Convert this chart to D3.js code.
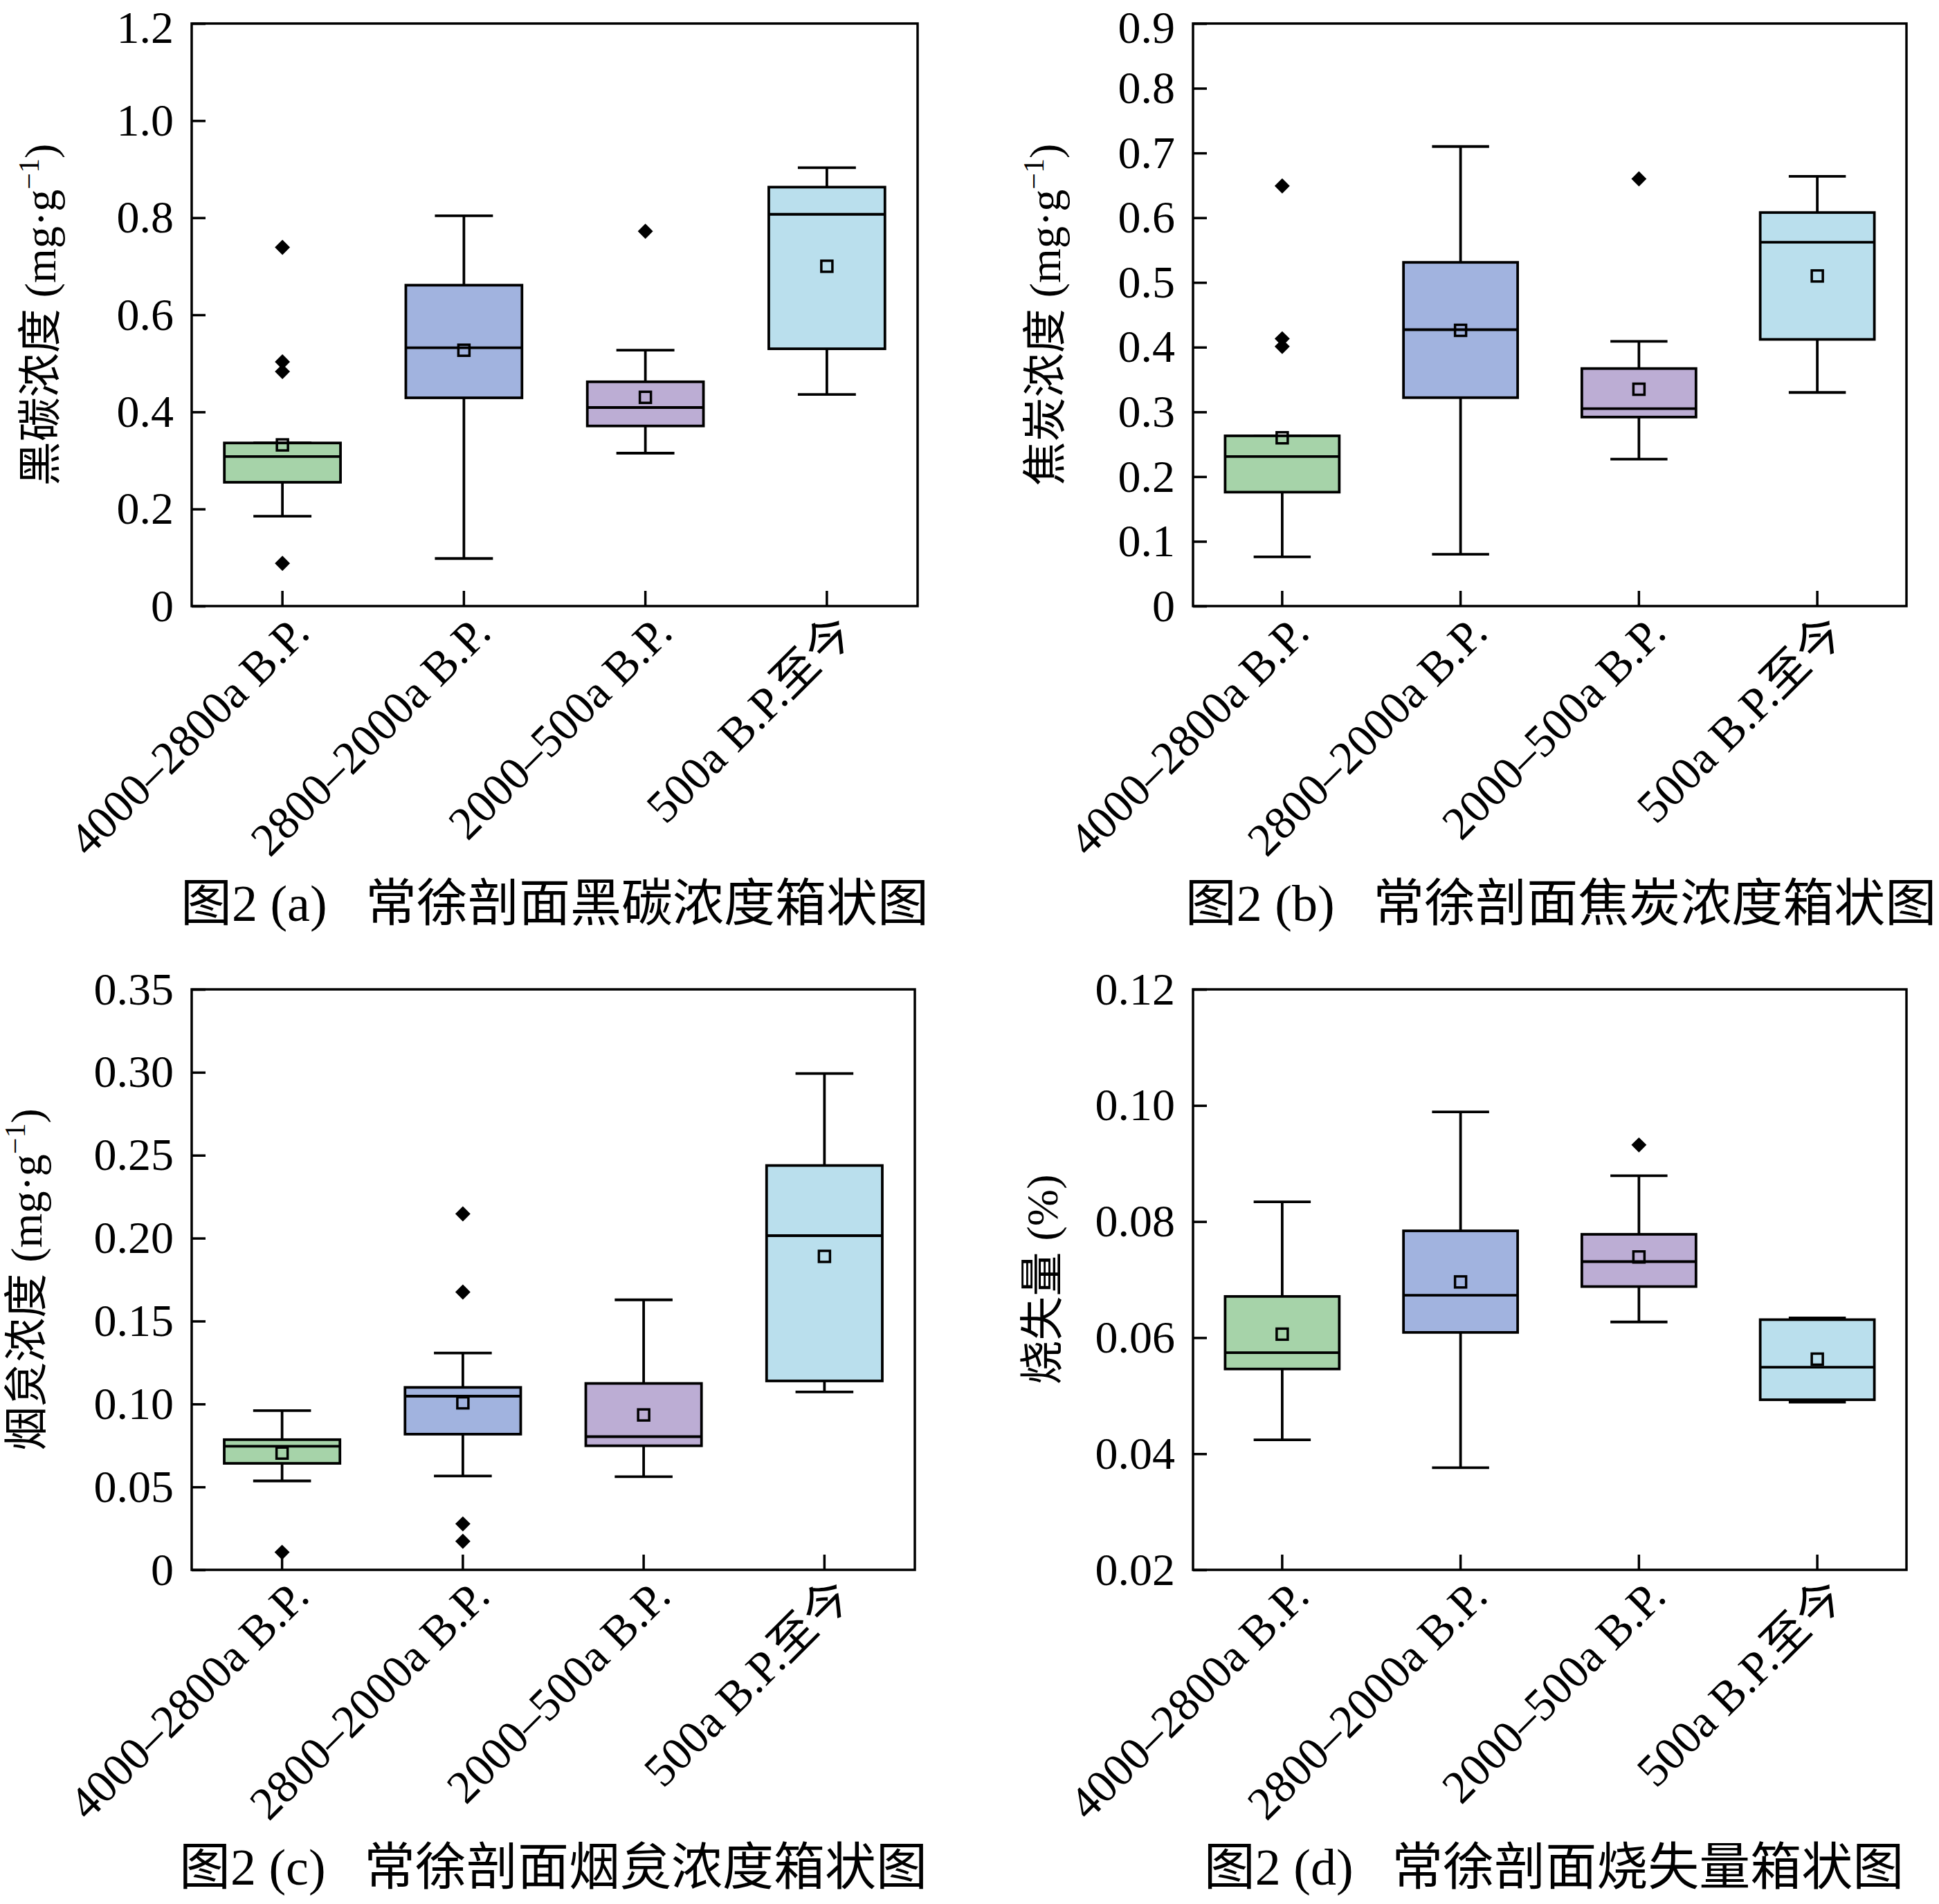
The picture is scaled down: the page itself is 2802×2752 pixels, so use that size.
<!DOCTYPE html>
<html><head><meta charset="utf-8">
<script src="https://cdn.jsdelivr.net/npm/d3@7"></script>
<style>html,body{margin:0;padding:0;background:#fff}</style>
</head><body>
<script>
const categories = ["4000–2800a B.P.", "2800–2000a B.P.", "2000–500a B.P.", "500a B.P.至今"];
const colors = ["#a6d3a9", "#a1b3df", "#bcadd4", "#badfed"];

// Panel (a) 黑碳
const aLow = [0.185, 0.098, 0.315, 0.436];
const aQ1 = [0.255, 0.429, 0.371, 0.530];
const aMed = [0.308, 0.532, 0.409, 0.807];
const aQ3 = [0.336, 0.661, 0.462, 0.863];
const aHigh = [0.336, 0.804, 0.527, 0.903];
const aMean = [0.332, 0.527, 0.430, 0.700];
const aOut = [[0.739, 0.503, 0.483, 0.088], [], [0.772], []];
const aTicks = [0, 0.2, 0.4, 0.6, 0.8, 1.0, 1.2];

// Panel (b) 焦炭
const bLow = [0.076, 0.080, 0.227, 0.330];
const bQ1 = [0.176, 0.322, 0.292, 0.412];
const bMed = [0.231, 0.427, 0.305, 0.562];
const bQ3 = [0.263, 0.531, 0.367, 0.608];
const bHigh = [0.263, 0.710, 0.409, 0.664];
const bMean = [0.260, 0.426, 0.335, 0.510];
const bOut = [[0.649, 0.413, 0.401], [], [0.660], []];
const bTicks = [0, 0.1, 0.2, 0.3, 0.4, 0.5, 0.6, 0.7, 0.8, 0.9];

// Panel (c) 烟炱
const cLow = [0.0536, 0.0566, 0.0562, 0.1073];
const cQ1 = [0.0642, 0.0818, 0.0748, 0.1139];
const cMed = [0.0745, 0.1047, 0.0803, 0.2015];
const cQ3 = [0.0785, 0.1100, 0.1124, 0.2438];
const cHigh = [0.0960, 0.1307, 0.1628, 0.2993];
const cMean = [0.0704, 0.1007, 0.0934, 0.1890];
const cOut = [[0.0106], [0.2146, 0.1675, 0.0277, 0.0172], [], []];
const cTicks = [0, 0.05, 0.10, 0.15, 0.20, 0.25, 0.30, 0.35];

// Panel (d) 烧失量
const dLow = [0.0424, 0.0376, 0.0627, 0.0489];
const dQ1 = [0.0546, 0.0609, 0.0688, 0.0493];
const dMed = [0.0574, 0.0673, 0.0731, 0.0549];
const dQ3 = [0.0671, 0.0784, 0.0778, 0.0631];
const dHigh = [0.0834, 0.0989, 0.0879, 0.0634];
const dMean = [0.0606, 0.0696, 0.0739, 0.0563];
const dOut = [[], [], [0.0932], []];
const dTicks = [0.02, 0.04, 0.06, 0.08, 0.10, 0.12];

const W = 2802, H = 2752;
const FONT = "'Liberation Serif','Times New Roman','Noto Sans CJK SC',serif";
const svg = d3.select("body").append("svg").attr("width", W).attr("height", H)
  .style("font-family", FONT);

const panels = [
  {box:{left:277, top:34, right:1326, bottom:876}, domain:[0,1.2], ticks:aTicks, fmt:v=> v===0?"0":d3.format(".1f")(v),
   low:aLow,q1:aQ1,med:aMed,q3:aQ3,high:aHigh,mean:aMean,out:aOut, ylab:"黑碳浓度", unit:true, ylx:58, capdx:0,
   cap:"图2 (a)   常徐剖面黑碳浓度箱状图"},
  {box:{left:1724, top:34, right:2755, bottom:876}, domain:[0,0.9], ticks:bTicks, fmt:v=> v===0?"0":d3.format(".1f")(v),
   low:bLow,q1:bQ1,med:bMed,q3:bQ3,high:bHigh,mean:bMean,out:bOut, ylab:"焦炭浓度", unit:true, ylx:1510, capdx:16,
   cap:"图2 (b)   常徐剖面焦炭浓度箱状图"},
  {box:{left:277, top:1430, right:1322, bottom:2269}, domain:[0,0.35], ticks:cTicks, fmt:v=> v===0?"0":d3.format(".2f")(v),
   low:cLow,q1:cQ1,med:cMed,q3:cQ3,high:cHigh,mean:cMean,out:cOut, ylab:"烟炱浓度", unit:true, ylx:38, capdx:0,
   cap:"图2 (c)   常徐剖面烟炱浓度箱状图"},
  {box:{left:1724, top:1430, right:2755, bottom:2269}, domain:[0.02,0.12], ticks:dTicks, fmt:d3.format(".2f"),
   low:dLow,q1:dQ1,med:dMed,q3:dQ3,high:dHigh,mean:dMean,out:dOut, ylab:"烧失量 (%)", unit:false, ylx:1506, capdx:6,
   cap:"图2 (d)   常徐剖面烧失量箱状图"}
];

panels.forEach(p => {
  const b = p.box;
  const x = d3.scaleBand().domain(categories).range([b.left, b.right]);
  const y = d3.scaleLinear().domain(p.domain).range([b.bottom, b.top]);
  const g = svg.append("g");
  const bw = x.bandwidth()*0.64, cw = x.bandwidth()*0.32;
  const LW = 3.8;

  categories.forEach((c, i) => {
    const cx = x(c) + x.bandwidth()/2;
    const gg = g.append("g");
    gg.append("line").attr("x1",cx).attr("x2",cx).attr("y1",y(p.high[i])).attr("y2",y(p.q3[i]))
      .attr("stroke","#000").attr("stroke-width",LW);
    gg.append("line").attr("x1",cx).attr("x2",cx).attr("y1",y(p.q1[i])).attr("y2",y(p.low[i]))
      .attr("stroke","#000").attr("stroke-width",LW);
    [p.high[i], p.low[i]].forEach(v => {
      gg.append("line").attr("x1",cx-cw/2).attr("x2",cx+cw/2).attr("y1",y(v)).attr("y2",y(v))
        .attr("stroke","#000").attr("stroke-width",LW);
    });
    gg.append("rect").attr("x",cx-bw/2).attr("width",bw).attr("y",y(p.q3[i])).attr("height",y(p.q1[i])-y(p.q3[i]))
      .attr("fill",colors[i]).attr("stroke","#000").attr("stroke-width",LW);
    gg.append("line").attr("x1",cx-bw/2).attr("x2",cx+bw/2).attr("y1",y(p.med[i])).attr("y2",y(p.med[i]))
      .attr("stroke","#000").attr("stroke-width",LW);
    gg.append("rect").attr("x",cx-8).attr("y",y(p.mean[i])-8).attr("width",16).attr("height",16)
      .attr("fill","none").attr("stroke","#000").attr("stroke-width",3.5);
    p.out[i].forEach(v => {
      gg.append("path").attr("d", d3.symbol().type(d3.symbolSquare).size(240)())
        .attr("transform",`translate(${cx},${y(v)}) rotate(45)`).attr("fill","#000");
    });
  });

  g.append("rect").attr("x",b.left).attr("y",b.top).attr("width",b.right-b.left).attr("height",b.bottom-b.top)
    .attr("fill","none").attr("stroke","#000").attr("stroke-width",3.5);
  const ya = d3.axisLeft(y).tickValues(p.ticks).tickFormat(p.fmt).tickSizeInner(-20).tickSizeOuter(0).tickPadding(26);
  const yg = g.append("g").attr("transform",`translate(${b.left},0)`).call(ya);
  yg.select(".domain").remove();
  yg.selectAll(".tick line").attr("stroke-width",3.5);
  yg.selectAll("text").attr("font-size",66).attr("font-family",FONT).attr("fill","#000");
  // keep topmost label inside the page
  yg.selectAll(".tick").filter(d => y(d) < 60).select("text").attr("dy", "0.42em");
  const xa = d3.axisBottom(x).tickSizeInner(-22).tickSizeOuter(0).tickFormat("");
  const xg = g.append("g").attr("transform",`translate(0,${b.bottom})`).call(xa);
  xg.select(".domain").remove();
  xg.selectAll(".tick line").attr("stroke-width",3.5);
  categories.forEach(c => {
    const cx = x(c) + x.bandwidth()/2;
    g.append("text").attr("text-anchor","end")
      .attr("transform",`translate(${cx+42},${b.bottom+42}) rotate(-45)`)
      .attr("font-size",67).attr("fill","#000").text(c);
  });
  const cy = (b.top+b.bottom)/2;
  const yl = g.append("text").attr("text-anchor","middle")
    .attr("transform",`translate(${p.ylx},${cy}) rotate(-90)`)
    .attr("dy","0.35em").attr("font-size",64).attr("fill","#000");
  yl.append("tspan").text(p.ylab);
  if (p.unit) {
    yl.append("tspan").text(" (mg·g");
    yl.append("tspan").attr("font-size",42).attr("dy","-24").text("−1");
    yl.append("tspan").attr("dy","24").text(")");
  }
  g.append("text").attr("x",(b.left+b.right)/2 + p.capdx).attr("y", b.bottom + 455)
    .attr("text-anchor","middle").attr("font-size",74).attr("fill","#000")
    .style("white-space","pre").text(p.cap);
});
</script>
</body></html>
